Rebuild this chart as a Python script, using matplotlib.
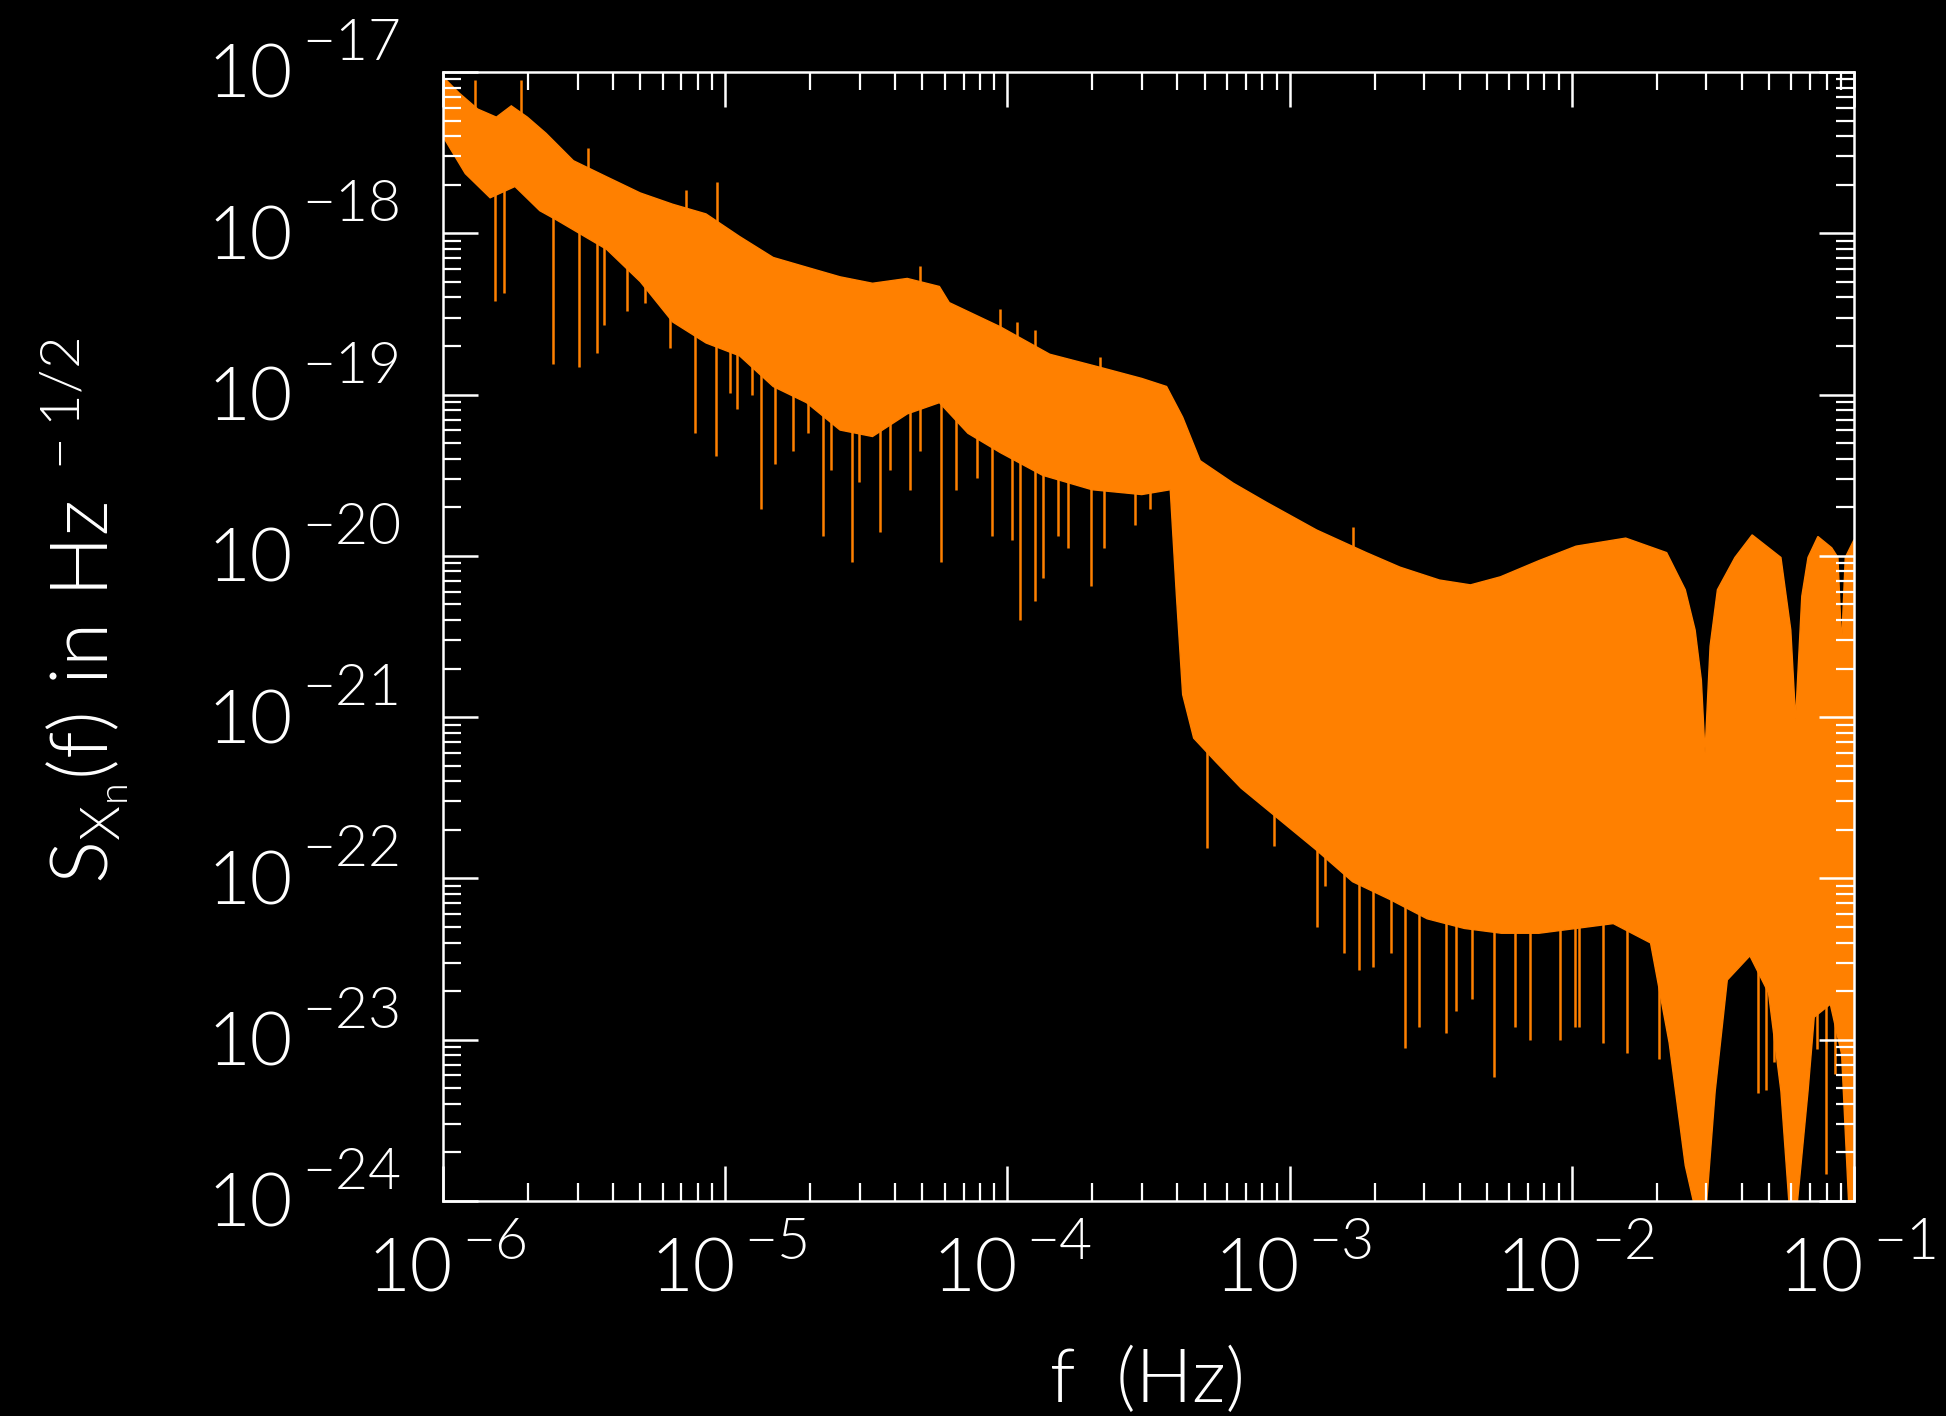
import numpy as np
import matplotlib
matplotlib.use("Agg")
import matplotlib.pyplot as plt
from matplotlib import font_manager as fm
from matplotlib.font_manager import FontProperties

# ---------------- data (log10 units) ----------------
# upper edge of the orange band: log10 f (Hz), log10 S
logf_up = [-6.000, -5.943, -5.877, -5.811, -5.758, -5.701, -5.635, -5.538, -5.420, -5.301,
           -5.186, -5.068, -4.949, -4.830, -4.712, -4.593, -4.478, -4.355, -4.241, -4.206,
           -4.025, -3.850, -3.674, -3.524, -3.436, -3.379, -3.317, -3.199, -3.080, -2.904,
           -2.728, -2.609, -2.469, -2.359, -2.253, -2.117, -1.985, -1.809, -1.664, -1.598,
           -1.563, -1.541, -1.528, -1.510, -1.484, -1.422, -1.361, -1.259, -1.224, -1.207,
           -1.185, -1.163, -1.128, -1.079, -1.057, -1.044, -1.031, -1.000]
logS_up = [-17.03, -17.13, -17.23, -17.28, -17.21, -17.28, -17.38, -17.55, -17.65, -17.75,
           -17.82, -17.88, -18.02, -18.15, -18.21, -18.27, -18.31, -18.28, -18.33, -18.43,
           -18.58, -18.75, -18.83, -18.90, -18.95, -19.14, -19.41, -19.55, -19.67, -19.84,
           -19.98, -20.07, -20.15, -20.18, -20.13, -20.03, -19.94, -19.89, -19.98, -20.21,
           -20.46, -20.77, -21.22, -20.56, -20.21, -20.01, -19.87, -20.01, -20.46, -21.01,
           -20.25, -20.01, -19.88, -19.95, -20.01, -20.55, -20.01, -19.90]

# lower (solid) edge of the orange band
logf_lo = [-6.000, -5.921, -5.833, -5.745, -5.657, -5.595, -5.420, -5.301, -5.186, -5.068,
           -4.949, -4.830, -4.712, -4.593, -4.478, -4.355, -4.241, -4.140, -4.025, -3.876,
           -3.700, -3.524, -3.423, -3.401, -3.379, -3.340, -3.260, -3.172, -3.040, -2.908,
           -2.777, -2.645, -2.513, -2.381, -2.249, -2.117, -1.985, -1.853, -1.721, -1.655,
           -1.598, -1.563, -1.524, -1.492, -1.449, -1.369, -1.303, -1.259, -1.229, -1.203,
           -1.163, -1.141, -1.084, -1.044, -1.018, -1.000]
logS_lo = [-17.40, -17.63, -17.78, -17.71, -17.86, -17.92, -18.10, -18.30, -18.55, -18.68,
           -18.76, -18.95, -19.05, -19.22, -19.26, -19.12, -19.05, -19.24, -19.36, -19.50,
           -19.59, -19.62, -19.59, -20.25, -20.86, -21.13, -21.28, -21.44, -21.63, -21.82,
           -22.02, -22.13, -22.25, -22.31, -22.34, -22.34, -22.31, -22.28, -22.40, -23.02,
           -23.78, -24.05, -24.05, -23.32, -22.63, -22.48, -22.71, -23.32, -24.05, -24.05,
           -23.32, -22.86, -22.78, -23.09, -24.05, -24.05]

# downward spikes: position and tip
down_logf = [-5.815, -5.785, -5.610, -5.519, -5.456, -5.429, -5.348, -5.285, -5.194, -5.140,
             -5.107, -5.032, -4.984, -4.959, -4.905, -4.872, -4.824, -4.760, -4.706, -4.652,
             -4.625, -4.552, -4.525, -4.453, -4.417, -4.344, -4.308, -4.236, -4.182, -4.109,
             -4.055, -3.983, -3.956, -3.901, -3.874, -3.820, -3.784, -3.703, -3.657, -3.549,
             -3.495, -3.291, -3.054, -2.904, -2.873, -2.807, -2.755, -2.706, -2.640, -2.592,
             -2.543, -2.447, -2.412, -2.354, -2.275, -2.200, -2.148, -2.042, -1.989, -1.976,
             -1.888, -1.805, -1.690, -1.339, -1.312, -1.282, -1.264, -1.132, -1.101, -1.066]
down_logS = [-18.42, -18.37, -18.81, -18.83, -18.74, -18.57, -18.48, -18.43, -18.71, -18.52,
             -19.24, -19.38, -18.99, -19.09, -19.00, -19.71, -19.43, -19.35, -19.24, -19.88,
             -19.47, -20.04, -19.54, -19.85, -19.47, -19.59, -19.35, -20.04, -19.59, -19.52,
             -19.88, -19.90, -20.40, -20.28, -20.14, -19.88, -19.95, -20.19, -19.95, -19.81,
             -19.71, -21.81, -21.80, -22.30, -22.05, -22.46, -22.57, -22.55, -22.46, -23.05,
             -22.92, -22.96, -22.82, -22.75, -23.23, -22.92, -23.00, -23.00, -22.92, -22.92,
             -23.02, -23.08, -23.12, -23.33, -23.31, -23.14, -23.17, -23.06, -23.83, -23.21]

# upward spikes above the band
up_logf = [-5.886, -5.723, -5.485, -5.138, -5.028, -4.310, -4.026, -3.966, -3.902, -3.672, -2.775]
up_logS = [-17.05, -17.05, -17.47, -17.73, -17.68, -18.20, -18.47, -18.55, -18.60, -18.77, -19.82]

x_decades = [-6, -5, -4, -3, -2, -1]
y_decades = [-24, -23, -22, -21, -20, -19, -18, -17]
xlabel_text = "f  (Hz)"
ylabel_text = r"$\mathregular{S_{X_n}(f)\ in\ Hz^{\ -1/2}}$"

ORANGE = "#ff8000"


def pick_font():
    prefs = ["Lato", "Roboto", "Inter", "Open Sans", "Noto Sans"]
    for name in prefs:
        ents = [e for e in fm.fontManager.ttflist if e.name == name and e.style == "normal"]

        def w(e):
            ww = e.weight
            if isinstance(ww, str):
                ww = fm.weight_dict.get(ww, 400)
            return ww
        light = [e for e in ents if 200 <= w(e) <= 300]
        if light:
            light.sort(key=lambda e: -w(e))
            return light[0].fname
    return None


fpath = pick_font()


def fp(size):
    if fpath:
        return FontProperties(fname=fpath, size=size)
    return FontProperties(family="DejaVu Sans", size=size)


fig = plt.figure(figsize=(19.46, 14.16), dpi=100, facecolor="black")
ax = fig.add_axes([0.22765, 0.15184, 0.72508, 0.79732])
ax.set_facecolor("black")
ax.set_xscale("log")
ax.set_yscale("log")
ax.set_xlim(1e-6, 1e-1)
ax.set_ylim(1e-24, 1e-17)

fu = 10.0 ** np.array(logf_up)
su = 10.0 ** np.array(logS_up)
fl = 10.0 ** np.array(logf_lo)
sl = 10.0 ** np.array(logS_lo)
ax.fill(np.concatenate([fu, fl[::-1]]), np.concatenate([su, sl[::-1]]),
        facecolor=ORANGE, edgecolor=ORANGE, lw=1.0, zorder=1)

dlf = np.array(down_logf)
base_d = 10.0 ** (np.interp(dlf, logf_lo, logS_lo) + 0.05)
ax.vlines(10.0 ** dlf, 10.0 ** np.array(down_logS), base_d, color=ORANGE, lw=1.8, zorder=1.2)

ulf = np.array(up_logf)
base_u = 10.0 ** (np.interp(ulf, logf_up, logS_up) - 0.05)
ax.vlines(10.0 ** ulf, base_u, 10.0 ** np.array(up_logS), color=ORANGE, lw=1.8, zorder=1.2)

# axes styling
ax.set_axisbelow(False)
for s in ax.spines.values():
    s.set_color("white")
    s.set_linewidth(1.8)
    s.set_zorder(3)
ax.yaxis.set_minor_locator(matplotlib.ticker.LogLocator(base=10, subs=np.arange(2, 10), numticks=30))
ax.xaxis.set_minor_locator(matplotlib.ticker.LogLocator(base=10, subs=np.arange(2, 10), numticks=30))
ax.tick_params(which="both", direction="in", top=True, right=True, colors="white",
               labelbottom=False, labelleft=False, zorder=3)
ax.tick_params(which="major", length=25, width=1.8)
ax.tick_params(which="minor", length=13, width=1.6)

base_fp = fp(53)
exp_fp = fp(41)

for e in x_decades:
    ax.annotate("10", xy=(10.0 ** e, 0), xycoords=("data", "axes fraction"),
                xytext=(10, -91), textcoords="offset pixels", ha="right", va="baseline",
                color="white", fontproperties=base_fp, annotation_clip=False)
    ax.annotate("\u2212%d" % (-e), xy=(10.0 ** e, 0), xycoords=("data", "axes fraction"),
                xytext=(19, -58), textcoords="offset pixels", ha="left", va="baseline",
                color="white", fontproperties=exp_fp, annotation_clip=False)

for e in y_decades:
    ax.annotate("10", xy=(0, 10.0 ** e), xycoords=("axes fraction", "data"),
                xytext=(-150, -26), textcoords="offset pixels", ha="right", va="baseline",
                color="white", fontproperties=base_fp, annotation_clip=False)
    ax.annotate("\u2212%d" % (-e), xy=(0, 10.0 ** e), xycoords=("axes fraction", "data"),
                xytext=(-141, 12), textcoords="offset pixels", ha="left", va="baseline",
                color="white", fontproperties=exp_fp, annotation_clip=False)

fig.text(1147 / 1946, 1 - 1402 / 1416, xlabel_text, ha="center", va="baseline",
         color="white", fontproperties=fp(54))
fig.text(84 / 1946, 1 - 611 / 1416, ylabel_text, ha="center", va="center", rotation=90,
         color="white", fontproperties=fp(58))

fig.savefig("out.png", dpi=100, facecolor="black")
